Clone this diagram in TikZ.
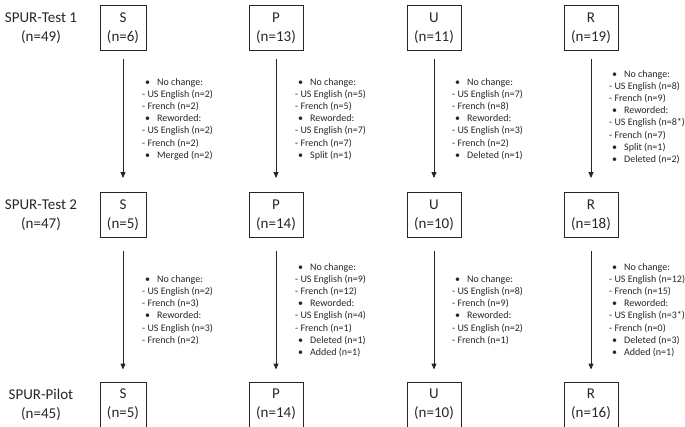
\documentclass[tikz,border=0pt]{standalone}
\usepackage{fontspec}
\setmainfont{Carlito}
\usetikzlibrary{arrows.meta}
\definecolor{ink}{HTML}{262626}
\newcommand{\bul}[1]{\hspace*{3pt}\textbullet\hspace{7pt}#1}
\begin{document}
\begin{tikzpicture}[x=1pt,y=-1pt,
  box/.style={draw=ink, line width=0.9pt, minimum height=45pt, inner sep=0pt, align=center,
    font=\fontsize{15}{19}\selectfont, text=ink},
  sbox/.style={box, minimum width=46pt},
  wbox/.style={box, minimum width=54pt},
  rowlabel/.style={align=center, font=\fontsize{15}{19}\selectfont, text=ink, inner sep=0pt},
  flow/.style={draw=ink, line width=0.9pt, -{Triangle[length=6pt,width=5pt]}},
  flowa/.style={flow, shorten <=8pt, shorten >=14pt},
  flowb/.style={flow, shorten <=13pt, shorten >=12pt},
  note/.style={anchor=west, align=left, inner sep=0pt, font=\fontsize{10}{12.2}\selectfont, text=ink}]
\useasboundingbox (0,0) rectangle (685,427);

% row labels
\node[rowlabel] (l1) at (41,28) {SPUR-Test 1\\(n=49)};
\node[rowlabel] (l2) at (41,215) {SPUR-Test 2\\(n=47)};
\node[rowlabel] (l3) at (41,404.5) {SPUR-Pilot\\(n=45)};

% row 1
\node[sbox] (s1) at (123,28) {S\\(n=6)};
\node[wbox] (p1) at (276,28) {P\\(n=13)};
\node[wbox] (u1) at (434,28) {U\\(n=11)};
\node[wbox] (r1) at (591,28) {R\\(n=19)};
% row 2
\node[sbox] (s2) at (123,215) {S\\(n=5)};
\node[wbox] (p2) at (276,215) {P\\(n=14)};
\node[wbox] (u2) at (434,215) {U\\(n=10)};
\node[wbox] (r2) at (591,215) {R\\(n=18)};
% row 3
\node[sbox] (s3) at (123,404.5) {S\\(n=5)};
\node[wbox] (p3) at (276,404.5) {P\\(n=14)};
\node[wbox] (u3) at (434,404.5) {U\\(n=10)};
\node[wbox] (r3) at (591,404.5) {R\\(n=16)};

% arrows
\draw[flowa] (s1) -- (s2);
\draw[flowa] (p1) -- (p2);
\draw[flowa] (u1) -- (u2);
\draw[flowa] (r1) -- (r2);
\draw[flowb] (s2) -- (s3);
\draw[flowb] (p2) -- (p3);
\draw[flowb] (u2) -- (u3);
\draw[flowb] (r2) -- (r3);

% notes row 1
\node[note] (ns1) at (142,119) {\bul{No change:}\\- US English (n=2)\\- French (n=2)\\\bul{Reworded:}\\- US English (n=2)\\- French (n=2)\\\bul{Merged (n=2)}};
\node[note] (np1) at (295,119) {\bul{No change:}\\- US English (n=5)\\- French (n=5)\\\bul{Reworded:}\\- US English (n=7)\\- French (n=7)\\\bul{Split (n=1)}};
\node[note] (nu1) at (452,119) {\bul{No change:}\\- US English (n=7)\\- French (n=8)\\\bul{Reworded:}\\- US English (n=3)\\- French (n=2)\\\bul{Deleted (n=1)}};
\node[note] (nr1) at (609,117) {\bul{No change:}\\- US English (n=8)\\- French (n=9)\\\bul{Reworded:}\\- US English (n=8*)\\- French (n=7)\\\bul{Split (n=1)}\\\bul{Deleted (n=2)}};

% notes row 2
\node[note] (ns2) at (142,310) {\bul{No change:}\\- US English (n=2)\\- French (n=3)\\\bul{Reworded:}\\- US English (n=3)\\- French (n=2)};
\node[note] (np2) at (295,310) {\bul{No change:}\\- US English (n=9)\\- French (n=12)\\\bul{Reworded:}\\- US English (n=4)\\- French (n=1)\\\bul{Deleted (n=1)}\\\bul{Added (n=1)}};
\node[note] (nu2) at (452,310) {\bul{No change:}\\- US English (n=8)\\- French (n=9)\\\bul{Reworded:}\\- US English (n=2)\\- French (n=1)};
\node[note] (nr2) at (609,310) {\bul{No change:}\\- US English (n=12)\\- French (n=15)\\\bul{Reworded:}\\- US English (n=3*)\\- French (n=0)\\\bul{Deleted (n=3)}\\\bul{Added (n=1)}};
\end{tikzpicture}
\end{document}
